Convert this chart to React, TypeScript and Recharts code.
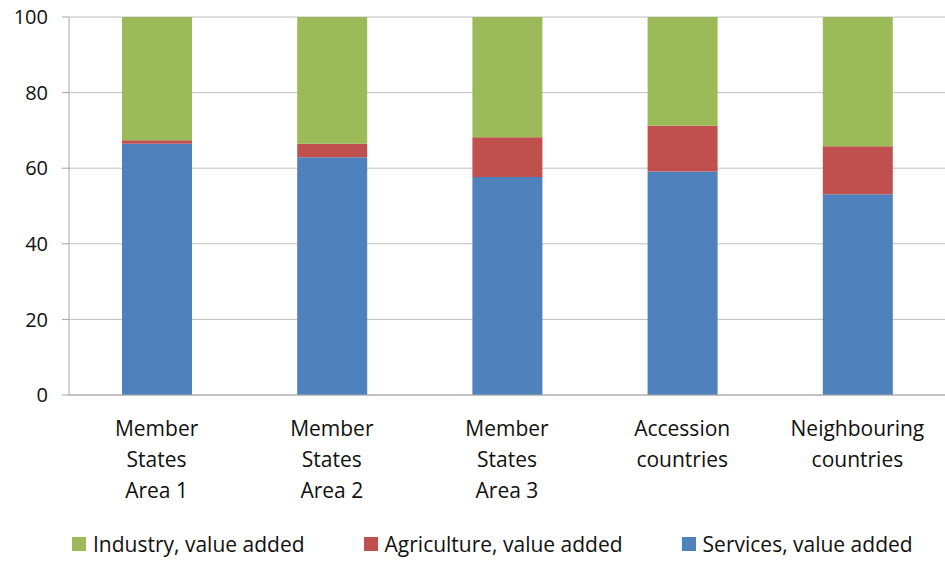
import React from 'react';
import { BarChart, Bar, XAxis, YAxis, CartesianGrid, Legend } from 'recharts';

const categories = [
  'Member States Area 1',
  'Member States Area 2',
  'Member States Area 3',
  'Accession countries',
  'Neighbouring countries',
];
const categoryLines = [
  ['Member', 'States', 'Area 1'],
  ['Member', 'States', 'Area 2'],
  ['Member', 'States', 'Area 3'],
  ['Accession', 'countries'],
  ['Neighbouring', 'countries'],
];
const services = [66.5, 62.9, 57.7, 59.1, 53.1];
const agriculture = [0.9, 3.6, 10.5, 12.1, 12.7];
const industry = [32.6, 33.5, 31.8, 28.8, 34.2];
const yTicks = [0, 20, 40, 60, 80, 100];
const boundaryTicks = [0, 1, 2, 3, 4, 5];

const FONT = '"Open Sans", sans-serif';
const TEXT = '#111';
const AXIS = '#a6a6a6';

const data = categories.map((name, i) => ({
  name,
  idx: i,
  services: services[i],
  agriculture: agriculture[i],
  industry: industry[i],
}));

const series = [
  { key: 'industry', label: 'Industry, value added', color: '#9BBB59' },
  { key: 'agriculture', label: 'Agriculture, value added', color: '#C0504D' },
  { key: 'services', label: 'Services, value added', color: '#4F81BD' },
];

const CategoryTick = (props: any) => {
  const { x, y, payload } = props;
  const lines = categoryLines[payload.index] || [payload.value];
  return (
    <text x={x} y={y} textAnchor="middle" fill={TEXT} fontFamily={FONT} fontSize={21}>
      {lines.map((l, i) => (
        <tspan key={i} x={x} dy={i === 0 ? 33 : 31}>
          {l}
        </tspan>
      ))}
    </text>
  );
};

const LegendContent = () => (
  <div
    style={{
      display: 'flex',
      alignItems: 'center',
      paddingLeft: 72,
      height: 37,
      fontFamily: FONT,
      fontSize: 21,
      color: TEXT,
      whiteSpace: 'nowrap',
    }}
  >
    {series.map((s) => (
      <div key={s.key} style={{ display: 'flex', alignItems: 'center', marginRight: 59 }}>
        <span style={{ width: 14, height: 14, background: s.color, marginRight: 7, display: 'inline-block' }} />
        <span>{s.label}</span>
      </div>
    ))}
  </div>
);

export default function App() {
  return (
    <div style={{ position: 'absolute', left: 0, top: 0, background: '#fff' }}>
      <BarChart
        width={945}
        height={562}
        data={data}
        margin={{ top: 17, right: 0, bottom: 0, left: 0 }}
        barSize={70}
      >
        <CartesianGrid vertical={false} stroke="#bfbfbf" />
        <XAxis
          dataKey="name"
          xAxisId="cat"
          height={130}
          axisLine={{ stroke: AXIS }}
          tickLine={false}
          tick={<CategoryTick />}
          interval={0}
        />
        <XAxis
          xAxisId="edge"
          type="number"
          dataKey="idx"
          domain={[0, 5]}
          ticks={boundaryTicks}
          height={0}
          axisLine={false}
          tickLine={{ stroke: AXIS }}
          tickSize={8}
          tick={false}
        />
        <YAxis
          width={69}
          domain={[0, 100]}
          ticks={yTicks}
          axisLine={{ stroke: AXIS }}
          tickLine={{ stroke: AXIS }}
          tickSize={7}
          tickMargin={14}
          tick={{ fill: TEXT, fontFamily: FONT, fontSize: 20 }}
        />
        <Legend verticalAlign="bottom" height={37} content={<LegendContent />} />
        <Bar xAxisId="cat" dataKey="services" stackId="a" fill="#4F81BD" isAnimationActive={false} />
        <Bar xAxisId="cat" dataKey="agriculture" stackId="a" fill="#C0504D" isAnimationActive={false} />
        <Bar xAxisId="cat" dataKey="industry" stackId="a" fill="#9BBB59" isAnimationActive={false} />
      </BarChart>
    </div>
  );
}
